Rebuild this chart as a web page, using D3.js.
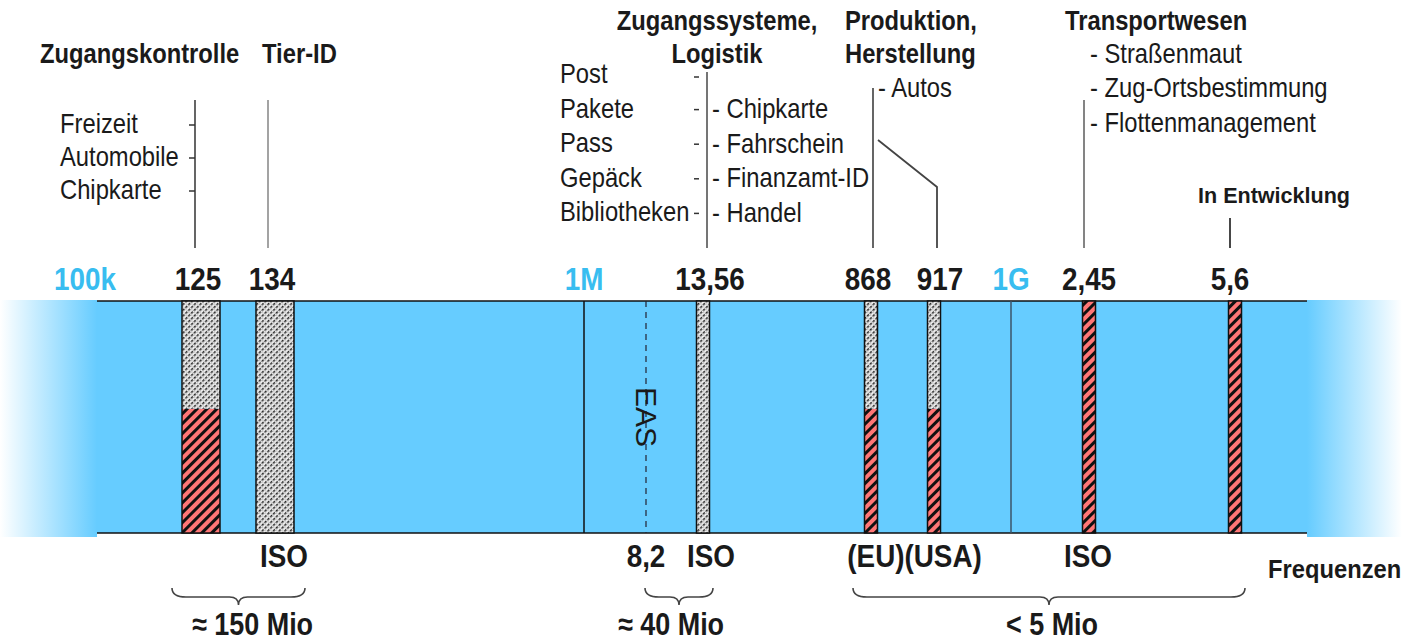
<html>
<head>
<script src="https://d3js.org/d3.v7.min.js"></script>
<style>
  body { margin: 0; background: #fff; }
  svg text { font-family: "Liberation Sans", Arial, sans-serif; fill: #1a1a1a; }
</style>
</head>
<body>
<script>
// RFID frequency bands (Hz)
var bandFreqs   = [125e3, 134e3, 13.56e6, 868e6, 917e6, 2.45e9, 5.6e9];
var bandLabels  = ["125", "134", "13,56", "868", "917", "2,45", "5,6"];
var redShare    = [0.535, 0, 0, 0.535, 0.535, 1, 1];   // lower, red-hatched part of each bar
var decadeFreqs = [1e5, 1e6, 1e9];
var decadeLabels = ["100k", "1M", "1G"];
var easFreq = 8.2e6;

var bottomFreqs = [134e3, 8.2e6, 13.56e6, 2.45e9];
var bottomTexts = ["ISO", "8,2", "ISO", "ISO"];

var groupFrom   = [125e3, 8.2e6, 868e6];
var groupTo     = [134e3, 13.56e6, 5.6e9];
var groupLabels = ["\u2248 150 Mio", "\u2248 40 Mio", "< 5 Mio"];

var zugangItems   = ["Freizeit", "Automobile", "Chipkarte"];
var logistikLeft  = ["Post", "Pakete", "Pass", "Gep\u00e4ck", "Bibliotheken"];
var logistikRight = ["Chipkarte", "Fahrschein", "Finanzamt-ID", "Handel"];
var transportItems = ["Stra\u00dfenmaut", "Zug-Ortsbestimmung", "Flottenmanagement"];

var width = 1422, height = 640;
var bandTop = 301, bandBottom = 533, bandLeft = 97, bandRight = 1307;

// schematic (non-uniform) frequency axis
var x = d3.scaleLog()
    .domain([1e5, 125e3, 134e3, 1e6, 8.2e6, 13.56e6, 868e6, 917e6, 1e9, 2.45e9, 5.6e9])
    .range([85, 201, 275, 584, 646, 703, 871, 934, 1011, 1089, 1235]);

var y = d3.scaleLinear().domain([0, 1]).range([bandBottom, bandTop]);

var svg = d3.select("body").append("svg")
    .attr("width", width)
    .attr("height", height);

var defs = svg.append("defs");

var lg = defs.append("linearGradient").attr("id", "fadeL");
lg.append("stop").attr("offset", "0%").attr("stop-color", "#66ccff").attr("stop-opacity", 0);
lg.append("stop").attr("offset", "100%").attr("stop-color", "#66ccff").attr("stop-opacity", 1);
var rg = defs.append("linearGradient").attr("id", "fadeR");
rg.append("stop").attr("offset", "0%").attr("stop-color", "#66ccff").attr("stop-opacity", 1);
rg.append("stop").attr("offset", "100%").attr("stop-color", "#66ccff").attr("stop-opacity", 0);

var pg = defs.append("pattern").attr("id", "grayHatch")
    .attr("patternUnits", "userSpaceOnUse")
    .attr("width", 4).attr("height", 4)
    .attr("patternTransform", "rotate(45)");
pg.append("rect").attr("width", 4).attr("height", 4).attr("fill", "#ececec");
pg.append("rect").attr("width", 1.6).attr("height", 2.6).attr("fill", "#2a2a2a");
pg.append("rect").attr("x", 2.4).attr("y", 2.8).attr("width", 0.9).attr("height", 0.9).attr("fill", "#888");

var pr = defs.append("pattern").attr("id", "redHatch")
    .attr("patternUnits", "userSpaceOnUse")
    .attr("width", 7).attr("height", 7)
    .attr("patternTransform", "rotate(45)");
pr.append("rect").attr("width", 7).attr("height", 7).attr("fill", "#ff7676");
pr.append("rect").attr("width", 3).attr("height", 7).attr("fill", "#111");

// helper: horizontally condensed text
function label(x0, y0, txt, size, weight, anchor, sx, color) {
    return svg.append("text")
        .attr("transform", "translate(" + x0 + "," + y0 + ") scale(" + (sx || 0.88) + ",1)")
        .attr("font-size", size)
        .attr("font-weight", weight || "normal")
        .attr("text-anchor", anchor || "start")
        .style("fill", color || "#1a1a1a")
        .text(txt);
}

// short dash used as bullet tick
function dash(x0, x1, yy) {
    svg.append("line").attr("x1", x0).attr("x2", x1).attr("y1", yy).attr("y2", yy)
        .attr("stroke", "#333").attr("stroke-width", 1.5);
}

// band
svg.append("rect").attr("x", 0).attr("y", bandTop - 1).attr("width", bandLeft).attr("height", bandBottom - bandTop + 5).attr("fill", "url(#fadeL)");
svg.append("rect").attr("x", bandRight).attr("y", bandTop - 1).attr("width", 95).attr("height", bandBottom - bandTop + 5).attr("fill", "url(#fadeR)");
svg.append("rect").attr("x", bandLeft).attr("y", bandTop).attr("width", bandRight - bandLeft).attr("height", bandBottom - bandTop).attr("fill", "#66ccff");
[bandTop, bandBottom].forEach(function (yy) {
    svg.append("line").attr("x1", bandLeft).attr("x2", bandRight).attr("y1", yy).attr("y2", yy)
        .attr("stroke", "#111").attr("stroke-width", 1.5);
});

// 1M and 1G divider lines
svg.append("line").attr("x1", x(1e6)).attr("x2", x(1e6)).attr("y1", bandTop).attr("y2", bandBottom)
    .attr("stroke", "#111").attr("stroke-width", 1.5);
svg.append("line").attr("x1", x(1e9)).attr("x2", x(1e9)).attr("y1", bandTop).attr("y2", bandBottom)
    .attr("stroke", "#3c5468").attr("stroke-width", 1.5);

// EAS dashed line
svg.append("line").attr("x1", x(easFreq)).attr("x2", x(easFreq)).attr("y1", bandTop).attr("y2", bandBottom)
    .attr("stroke", "#223").attr("stroke-width", 1.2).attr("stroke-dasharray", "6,5");
svg.append("text")
    .attr("transform", "translate(" + (x(easFreq) - 10) + "," + 417 + ") rotate(90)")
    .attr("font-size", 30).attr("text-anchor", "middle")
    .text("EAS");

// bars
var bars = svg.selectAll("g.bar").data(bandFreqs).enter().append("g").attr("class", "bar");
function bw(f) { return f < 1e6 ? 38 : 13; }
bars.append("rect")
    .attr("x", function (f) { return x(f) - bw(f) / 2; })
    .attr("y", y(1))
    .attr("width", bw)
    .attr("height", function (f, i) { return y(redShare[i]) - y(1); })
    .attr("fill", "url(#grayHatch)");
bars.append("rect")
    .attr("x", function (f) { return x(f) - bw(f) / 2; })
    .attr("y", function (f, i) { return y(redShare[i]); })
    .attr("width", bw)
    .attr("height", function (f, i) { return y(0) - y(redShare[i]); })
    .attr("fill", "url(#redHatch)");
bars.append("rect")
    .attr("x", function (f) { return x(f) - bw(f) / 2; })
    .attr("y", y(1))
    .attr("width", bw)
    .attr("height", y(0) - y(1))
    .attr("fill", "none").attr("stroke", "#111").attr("stroke-width", 1.5);

// frequency labels above band
var labelShift = [-3, -3, 7, -3, 6, 0, -5];
bandFreqs.forEach(function (f, i) { label(x(f) + labelShift[i], 290, bandLabels[i], 32, "bold", "middle", 0.87); });
decadeFreqs.forEach(function (f, i) { label(x(f), 290, decadeLabels[i], 32, "bold", "middle", 0.87, "#38bdf0"); });

// leader lines
var leaderTop = [100, 100, 72, 88, null, 100, 218];
var leaderShift = [-6, -7, 4, 2, 3, -5, -5];
var leaderColor = ["#555", "#999", "#666", "#555", "#444", "#777", "#333"];
bandFreqs.forEach(function (f, i) {
    if (leaderTop[i] === null) return;
    var lx = x(f) + leaderShift[i];
    svg.append("line").attr("x1", lx).attr("x2", lx).attr("y1", leaderTop[i]).attr("y2", 248)
        .attr("stroke", leaderColor[i]).attr("stroke-width", 1.8);
});
svg.append("polyline")
    .attr("points", [[x(868e6) + 7, 140], [x(917e6) + 3, 187], [x(917e6) + 3, 248]].join(" "))
    .attr("fill", "none").attr("stroke", "#444").attr("stroke-width", 1.8);

// Zugangskontrolle / Tier-ID
label(40, 63, "Zugangskontrolle", 27, "bold");
label(262, 63, "Tier-ID", 27, "bold");
zugangItems.forEach(function (t, i) {
    var by = [133, 166, 199][i];
    var lx = x(125e3) - 6;
    label(60, by, t, 27);
    dash(lx - 6, lx, by - 8);
});

// Zugangssysteme, Logistik
label(717, 30, "Zugangssysteme,", 27, "bold", "middle");
label(717, 63, "Logistik", 27, "bold", "middle");
logistikLeft.forEach(function (t, i) {
    var by = 83 + i * 34.6;
    label(560, by, t, 27);
    dash(x(13.56e6) - 9, x(13.56e6) - 4, by - (i === 0 ? 6 : 8));
});
logistikRight.forEach(function (t, i) {
    label(x(13.56e6) + 9, 118 + i * 34.6, "- " + t, 27);
});

// Produktion, Herstellung
label(845, 30, "Produktion,", 27, "bold");
label(845, 63, "Herstellung", 27, "bold");
label(x(868e6) + 7, 97, "- Autos", 27);

// Transportwesen
label(1065, 30, "Transportwesen", 27, "bold");
transportItems.forEach(function (t, i) {
    label(1090, 63 + i * 34.3, "- " + t, 27);
});

label(1198, 203, "In Entwicklung", 22, "bold", "start", 0.98);

// labels under band
var bottomShift = [9, 0, 8, -1];
bottomFreqs.forEach(function (f, i) { label(x(f) + bottomShift[i], 567, bottomTexts[i], 32, "bold", "middle", 0.87); });
var euMid = (x(868e6) + x(917e6)) / 2 + 2;
label(euMid, 567, "(EU)", 32, "bold", "end", 0.87);
label(euMid, 567, "(USA)", 32, "bold", "start", 0.87);
label(1268, 578, "Frequenzen", 25, "bold", "start", 0.95);

// braces
function brace(x0, x1, top) {
    var m = (x0 + x1) / 2, mid = top + 9, tip = top + 17;
    return "M" + x0 + "," + top +
        " Q" + x0 + "," + mid + " " + (x0 + 14) + "," + mid +
        " L" + (m - 9) + "," + mid +
        " Q" + m + "," + mid + " " + m + "," + tip +
        " Q" + m + "," + mid + " " + (m + 9) + "," + mid +
        " L" + (x1 - 14) + "," + mid +
        " Q" + x1 + "," + mid + " " + x1 + "," + top;
}
groupFrom.forEach(function (f, i) {
    var pad0 = f < 1e6 ? 29 : 1, pad1 = groupTo[i] < 1e6 ? 30 : 10;
    if (i === 2) pad0 = 18;
    var x0 = x(f) - pad0, x1 = x(groupTo[i]) + pad1;
    svg.append("path").attr("d", brace(x0, x1, 588))
        .attr("fill", "none").attr("stroke", "#444").attr("stroke-width", 1.6);
    label((x0 + x1) / 2 + [14, -8, 3][i], 635, groupLabels[i], 31, "bold", "middle", 0.87);
});
</script>
</body>
</html>
